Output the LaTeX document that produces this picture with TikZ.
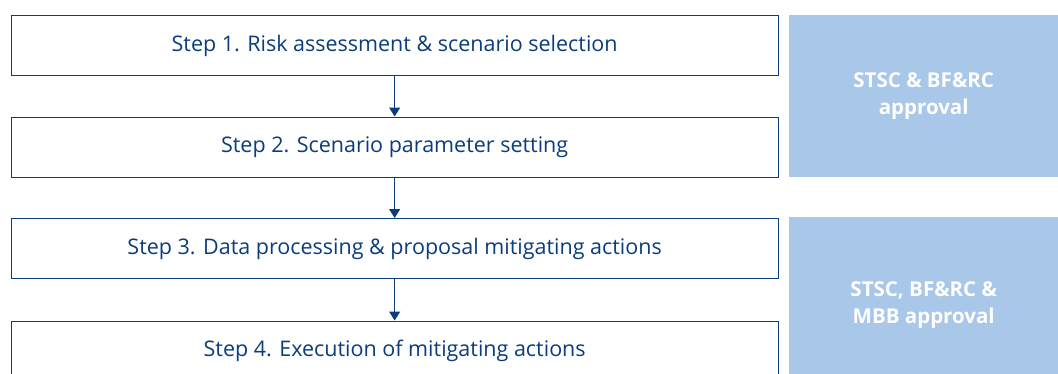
\documentclass[tikz,border=0pt]{standalone}
\usepackage{fontspec}
\setmainfont{Open Sans}
\usetikzlibrary{arrows.meta}
\definecolor{navy}{HTML}{0B3D7C}
\definecolor{panel}{HTML}{A8C7E9}
\begin{document}
\begin{tikzpicture}[x=1pt,y=-1pt,
  stepbox/.style={draw=navy,line width=1.3pt,fill=white,minimum width=767pt,minimum height=60pt,anchor=north west,inner sep=0pt,font=\fontsize{21.5}{24}\selectfont,text=navy},
  panelbox/.style={fill=panel,anchor=north west,inner sep=0pt,font=\bfseries\fontsize{20.5}{27}\selectfont,text=white,align=center,minimum width=269pt},
  flow/.style={draw=navy,line width=1.2pt,-{Triangle[length=9pt,width=11pt]}}]
\useasboundingbox (0,0) rectangle (1058,373);
\begin{scope}
\clip (0,0) rectangle (1058,373);
\node[stepbox] (s1) at (10.5,15) {Step 1. Risk assessment \& scenario selection};
\node[stepbox] (s2) at (10.5,116.5) {Step 2. Scenario parameter setting};
\node[stepbox] (s3) at (10.5,218) {Step 3. Data processing \& proposal mitigating actions};
\node[stepbox] (s4) at (10.5,320.5) {Step 4. Execution of mitigating actions};
\node[panelbox,minimum height=162pt] (p1) at (789,15) {STSC \& BF\&RC\\approval};
\node[panelbox,minimum height=175pt] (p2) at (789,217) {STSC, BF\&RC \&\\MBB approval};
\end{scope}
\draw[flow] (s1.south) -- (s2.north);
\draw[flow] (s2.south) -- (s3.north);
\draw[flow] (s3.south) -- (s4.north);
\end{tikzpicture}
\end{document}
